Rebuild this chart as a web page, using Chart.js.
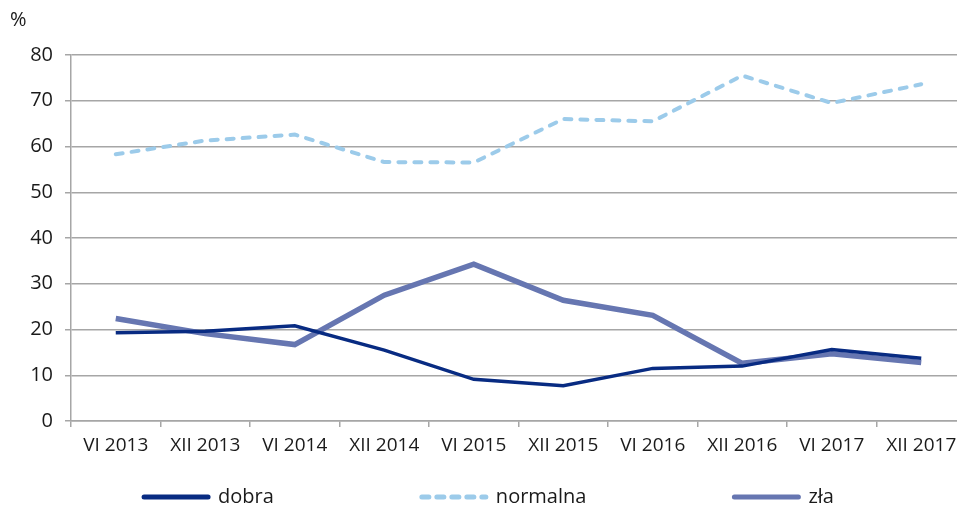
<!DOCTYPE html>
<html>
<head>
<meta charset="utf-8">
<script src="https://cdn.jsdelivr.net/npm/chart.js@4.4.0/dist/chart.umd.min.js"></script>
<style>
  html, body { margin: 0; padding: 0; background: #fff; overflow: hidden; }
  /* obszar wykresu wychodzi troche poza prawa krawedz, jak w oryginale */
  #wrap { width: 966px; height: 511px; position: relative; }
</style>
</head>
<body>
<div id="wrap"><canvas id="chart"></canvas></div>
<script>
const labels = ["VI 2013", "XII 2013", "VI 2014", "XII 2014", "VI 2015", "XII 2015", "VI 2016", "XII 2016", "VI 2017", "XII 2017"];
const dobra = [19.3, 19.6, 20.8, 15.5, 9.1, 7.7, 11.5, 12.0, 15.6, 13.7];
const normalna = [58.3, 61.3, 62.6, 56.6, 56.5, 66.0, 65.5, 75.5, 69.5, 73.6];
const zla = [22.4, 19.1, 16.7, 27.5, 34.3, 26.4, 23.1, 12.6, 14.7, 12.8];

const FONT = "'Open Sans', 'Noto Sans', sans-serif";
const GRID = '#a6a6a6';
const TEXT = '#1a1a1a';

// legenda rysowana recznie - wpisy z duzymi odstepami jak w oryginale
const bottomLegend = {
    id: 'bottomLegend',
    afterDraw(chart) {
        const c = chart.ctx;
        const lineLen = 70, gapText = 7, gapItems = 145;
        c.save();
        c.font = '20px ' + FONT;
        const items = chart.data.datasets.map(ds => ({
            ds: ds,
            w: lineLen + gapText + c.measureText(ds.label).width
        }));
        const total = items.reduce((s, it) => s + it.w, 0) + gapItems * (items.length - 1);
        let x = 957 / 2 + 9 - total / 2;
        const y = chart.height - 14;
        items.forEach(it => {
            c.beginPath();
            c.strokeStyle = it.ds.borderColor;
            c.lineWidth = 5;
            c.lineCap = 'round';
            c.setLineDash(it.ds.borderDash ? [7, 8] : []);
            c.moveTo(x + 3, y);
            c.lineTo(x + lineLen - 3, y);
            c.stroke();
            c.setLineDash([]);
            c.fillStyle = TEXT;
            c.textBaseline = 'middle';
            c.textAlign = 'left';
            c.fillText(it.ds.label, x + lineLen + gapText, y);
            x += it.w + gapItems;
        });
        c.restore();
    }
};

const ctx = document.getElementById('chart');
const myChart = new Chart(ctx, {
    type: 'line',
    data: {
        labels: labels,
        datasets: [{
            label: 'dobra',
            data: dobra,
            borderColor: '#082b82',
            borderWidth: 3.5,
            pointRadius: 0,
            tension: 0
        }, {
            label: 'normalna',
            data: normalna,
            borderColor: '#9ccbea',
            borderWidth: 4,
            borderDash: [7, 9],
            borderCapStyle: 'round',
            pointRadius: 0,
            tension: 0
        }, {
            label: 'zła',
            data: zla,
            borderColor: '#6676b1',
            borderWidth: 5.5,
            pointRadius: 0,
            tension: 0
        }]
    },
    plugins: [bottomLegend],
    options: {
        responsive: true,
        maintainAspectRatio: false,
        animation: false,
        layout: {
            padding: { left: 10, right: 0, top: 8, bottom: 50 }
        },
        plugins: {
            title: {
                display: true,
                text: '%',
                align: 'start',
                color: TEXT,
                font: { family: FONT, size: 20, weight: 'normal' },
                padding: { top: 0, bottom: 23 }
            },
            legend: { display: false },
            tooltip: { enabled: false }
        },
        scales: {
            x: {
                offset: true,
                afterFit: function (scale) { scale.height = 40; },
                grid: {
                    offset: true,
                    drawOnChartArea: false,
                    drawTicks: true,
                    tickLength: 6,
                    color: GRID,
                    lineWidth: 1.5
                },
                border: { color: GRID, width: 1.5 },
                ticks: {
                    color: TEXT,
                    font: { family: FONT, size: 19 },
                    maxRotation: 0,
                    autoSkip: false,
                    padding: 7
                }
            },
            y: {
                min: 0,
                max: 80,
                afterFit: function (scale) { scale.width = 61; },
                grid: {
                    color: GRID,
                    lineWidth: 1.5,
                    tickLength: 6
                },
                border: { color: GRID, width: 1.5 },
                ticks: {
                    stepSize: 10,
                    color: TEXT,
                    font: { family: FONT, size: 20 },
                    padding: 12
                }
            }
        }
    }
});
</script>
</body>
</html>
